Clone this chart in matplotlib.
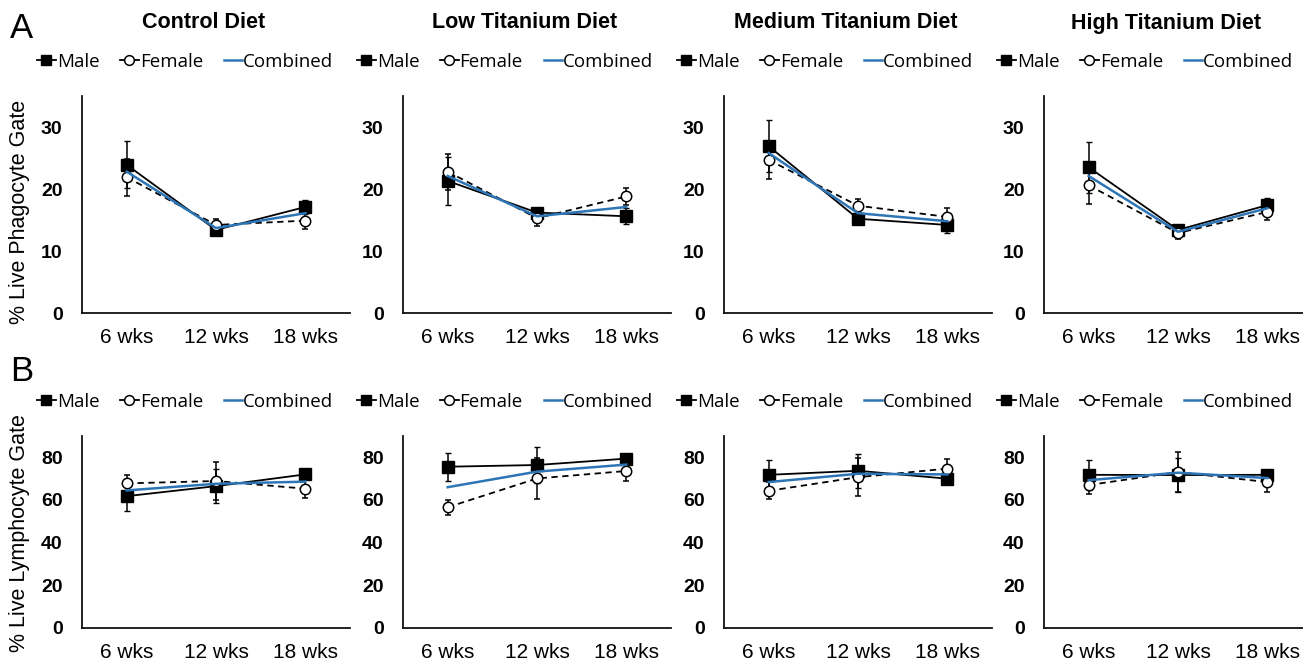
import numpy as np
import matplotlib as mpl
import matplotlib.pyplot as plt
from matplotlib.lines import Line2D

# Daten
diets = ['Control Diet', 'Low Titanium Diet', 'Medium Titanium Diet', 'High Titanium Diet']
weeks = ['6 wks', '12 wks', '18 wks']

# A: % Live Phagocyte Gate
phago_male = [[23.9, 13.4, 17.1], [21.3, 16.2, 15.6], [26.9, 15.2, 14.2], [23.5, 13.4, 17.4]]
phago_male_err = [[3.8, 0.7, 1.1], [3.9, 0.5, 1.3], [4.2, 0.5, 1.3], [4.1, 0.5, 1.2]]
phago_female = [[21.9, 14.2, 14.9], [22.8, 15.3, 18.8], [24.7, 17.3, 15.5], [20.6, 12.9, 16.3]]
phago_female_err = [[3.0, 1.0, 1.4], [2.9, 1.3, 1.3], [3.1, 1.1, 1.4], [3.0, 1.0, 1.3]]
phago_comb = [[22.8, 13.7, 16.1], [22.1, 15.6, 17.1], [25.8, 16.1, 14.8], [22.1, 13.1, 16.9]]

# B: % Live Lymphocyte Gate
lymph_male = [[61.8, 66.5, 72.0], [75.6, 76.4, 79.4], [71.8, 73.7, 70.0], [71.8, 71.7, 71.8]]
lymph_male_err = [[7.0, 8.0, 1.0], [6.5, 8.5, 1.0], [7.0, 8.0, 1.5], [7.0, 8.0, 1.5]]
lymph_female = [[67.8, 68.9, 65.3], [56.6, 70.1, 73.6], [64.3, 70.7, 74.7], [67.0, 73.1, 68.4]]
lymph_female_err = [[4.0, 9.0, 4.5], [3.5, 9.5, 4.5], [4.0, 9.0, 4.3], [4.0, 9.5, 4.5]]
lymph_comb = [[64.5, 67.6, 68.6], [66.0, 73.3, 76.6], [68.4, 72.3, 72.0], [69.3, 72.8, 70.3]]

blau = '#2E75B6'
W, H = 1303, 661
fig = plt.figure(figsize=(W / 100, H / 100), dpi=100)

ax_links = [82, 403, 724, 1044]
ax_breite = 268
zeilen = [
    # (oben, unten, ymax, yticks, daten)
    (96, 313, 35, [0, 10, 20, 30], phago_male, phago_male_err, phago_female, phago_female_err, phago_comb),
    (436, 628, 90, [0, 20, 40, 60, 80], lymph_male, lymph_male_err, lymph_female, lymph_female_err, lymph_comb),
]
leg_y = [62, 402]
leg_x = [37, 357, 677, 997]
x = np.arange(len(weeks))

# Legenden-Symbole (Reihenfolge wie im Original)
leg_handles = [
    Line2D([], [], color='black', marker='s', markersize=7.5, linewidth=1.3),
    Line2D([], [], color='black', marker='o', markersize=7, markerfacecolor='white', markeredgewidth=1.1, linewidth=1.3),
    Line2D([], [], color=blau, linewidth=1.8),
]
leg_labels = ['Male', 'Female', 'Combined']

for r, (oben, unten, ymax, yticks, m, me, f, fe, c) in enumerate(zeilen):
    for i in range(4):
        ax = fig.add_axes([ax_links[i] / W, 1 - unten / H, ax_breite / W, (unten - oben) / H])
        ax.errorbar(x, m[i], yerr=me[i], color='black', marker='s', markersize=8, linewidth=1.3,
                    capsize=2, elinewidth=1.1, zorder=3)
        ax.errorbar(x, f[i], yerr=fe[i], color='black', marker='o', markersize=7.5, markerfacecolor='white',
                    markeredgewidth=1.1, linewidth=1.3, linestyle=(0, (3.5, 2.5)), capsize=2, elinewidth=1.1,
                    zorder=4)
        ax.plot(x, c[i], color=blau, linewidth=1.8, zorder=5)
        ax.set_xlim(-0.5, 2.5)
        ax.set_ylim(0, ymax)
        ax.set_xticks(x)
        ax.set_xticklabels(weeks, fontsize=15, fontfamily='Liberation Sans')
        ax.set_yticks(yticks)
        ax.set_yticklabels([str(t) for t in yticks], fontsize=14, fontweight='bold', fontfamily='Liberation Sans')
        ax.tick_params(axis='both', length=0)
        ax.tick_params(axis='x', pad=11)
        ax.tick_params(axis='y', pad=14)
        for s in ['top', 'right']:
            ax.spines[s].set_visible(False)
        for s in ['left', 'bottom']:
            ax.spines[s].set_linewidth(1.3)
            ax.spines[s].set_color('#111111')
        ax.patch.set_visible(False)

        ax.legend(leg_handles, leg_labels, loc='center left', bbox_to_anchor=(leg_x[i] / W, 1 - leg_y[r] / H),
                  bbox_transform=fig.transFigure, ncol=3, frameon=False, handlelength=1.0,
                  handletextpad=0.05, columnspacing=1.1, borderaxespad=0, borderpad=0,
                  prop={'family': 'Open Sans', 'size': 13.5})

        if r == 0:
            fig.text((ax_links[i] + ax_breite / 2 - 12) / W, 1 - 23 / H, diets[i], ha='center', va='center',
                     fontsize=15.5, fontweight='bold', fontfamily='Liberation Sans')

fig.text(20 / W, 1 - 212 / H, '% Live Phagocyte Gate', rotation=90, ha='center', va='center',
         fontsize=15.5, fontfamily='Liberation Sans')
fig.text(20 / W, 1 - 533 / H, '% Live Lymphocyte Gate', rotation=90, ha='center', va='center',
         fontsize=15.5, fontfamily='Liberation Sans')
fig.text(22 / W, 1 - 28 / H, 'A', ha='center', va='center', fontsize=25, fontfamily='Liberation Sans')
fig.text(22 / W, 1 - 372 / H, 'B', ha='center', va='center', fontsize=25, fontfamily='Liberation Sans')

fig.savefig('out.png', dpi=100)
